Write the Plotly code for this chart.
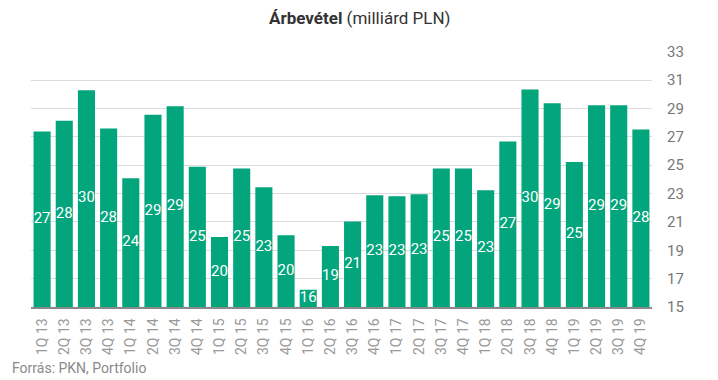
import plotly.graph_objects as go

categories = ["1Q 13","2Q 13","3Q 13","4Q 13","1Q 14","2Q 14","3Q 14","4Q 14",
              "1Q 15","2Q 15","3Q 15","4Q 15","1Q 16","2Q 16","3Q 16","4Q 16",
              "1Q 17","2Q 17","3Q 17","4Q 17","1Q 18","2Q 18","3Q 18","4Q 18",
              "1Q 19","2Q 19","3Q 19","4Q 19"]
revenue = [27.37, 28.14, 30.28, 27.58, 24.07, 28.56, 29.16, 24.88,
           19.93, 24.77, 23.44, 20.06, 16.21, 19.30, 21.02, 22.88,
           22.81, 22.95, 24.77, 24.77, 23.24, 26.67, 30.33, 29.37,
           25.23, 29.23, 29.23, 27.52]
y_ticks = [15, 17, 19, 21, 23, 25, 27, 29, 31, 33]
y_min, y_max = 15, 33

# page body has an 8px margin: figure is drawn 8px smaller and offset
W, H = 710, 372
L, R, T, B = 23, 66, 43, 73

fig = go.Figure()
fig.add_trace(go.Bar(
    x=categories, y=revenue,
    marker=dict(color="#03A57C", line=dict(width=0)),
    hoverinfo="x+y",
))
fig.add_trace(go.Scatter(
    x=categories, y=[(y_min + v) / 2 for v in revenue],
    mode="text", text=[f"{round(v)}" for v in revenue],
    textposition="middle center",
    textfont=dict(family="Roboto", size=15, color="white"),
    hoverinfo="skip", cliponaxis=False,
))

plot_h = H - T - B
plot_w = W - L - R

fig.update_layout(
    width=W, height=H,
    margin=dict(l=L, r=R, t=T, b=B, autoexpand=False),
    paper_bgcolor="white", plot_bgcolor="white",
    bargap=0.23,
    showlegend=False,
    font=dict(family="Roboto", color="#777"),
    xaxis=dict(
        type="category", range=[-0.5, len(categories) - 0.5],
        tickangle=-90, tickfont=dict(family="Roboto", size=14, color="#999"),
        showline=True, linecolor="#8a8a8a", linewidth=1.5,
        showgrid=False, ticks="", ticklabelstandoff=4, automargin=False,
    ),
    yaxis=dict(
        side="right", range=[y_min, y_max + 0.05], tickvals=y_ticks,
        tickfont=dict(family="Roboto", size=15, color="#777"),
        showgrid=True, gridcolor="#dcdcdc", gridwidth=1,
        zeroline=False, showline=False, ticks="", ticklabelstandoff=14,
        automargin=False,
    ),
    annotations=[
        dict(text="<b>Árbevétel</b> (milliárd PLN)",
             x=(351 - L) / plot_w, xref="paper",
             y=(H - B - 10) / plot_h, yref="paper",
             xanchor="center", yanchor="middle", showarrow=False,
             font=dict(family="Roboto", size=17, color="#333")),
        dict(text="Forrás: PKN, Portfolio",
             x=(2 - L) / plot_w, xref="paper",
             y=(H - B - 360) / plot_h, yref="paper",
             xanchor="left", yanchor="middle", showarrow=False,
             font=dict(family="Roboto", size=14, color="#8a8a8a")),
    ],
)

fig.write_html("out.html")
